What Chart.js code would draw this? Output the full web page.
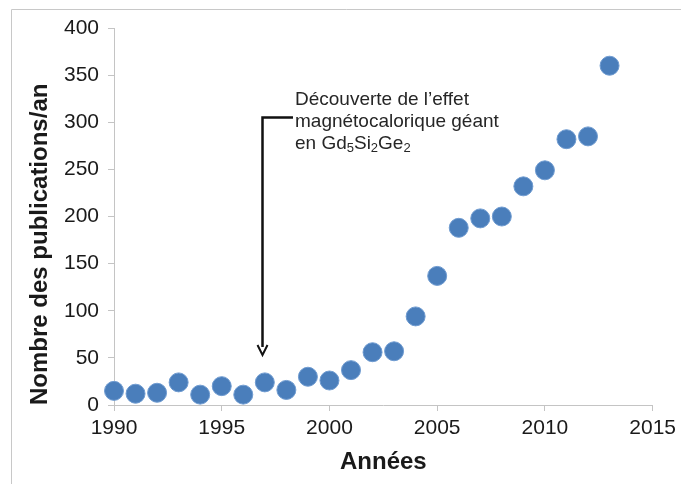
<!DOCTYPE html>
<html>
<head>
<meta charset="utf-8">
<script src="https://cdn.jsdelivr.net/npm/chart.js@4.4.0/dist/chart.umd.min.js"></script>
<style>
  html, body { margin: 0; padding: 0; background: #fff; }
  #wrap { width: 681px; height: 484px; position: relative; }
</style>
</head>
<body>
<div id="wrap"><canvas id="chart"></canvas></div>
<script>
// Years and publications per year
const years = [1990, 1991, 1992, 1993, 1994, 1995, 1996, 1997, 1998, 1999, 2000, 2001,
  2002, 2003, 2004, 2005, 2006, 2007, 2008, 2009, 2010, 2011, 2012, 2013];
const publications = [15, 12, 13, 24, 11, 20, 11, 24, 16, 30, 26, 37,
  56, 57, 94, 137, 188, 198, 200, 232, 249, 282, 285, 360];

const xTicks = [1990, 1995, 2000, 2005, 2010, 2015];
const yTicks = [0, 50, 100, 150, 200, 250, 300, 350, 400];

// annotation (data units)
const arrowYear = 1997;
const arrowTop = 305;
const arrowTip = 53;
const noteLines = ['Découverte de l’effet', 'magnétocalorique géant'];

const points = years.map((y, i) => ({ x: y, y: publications[i] }));

const axisGray = '#c4c4c4';
const textColor = '#1a1a1a';

// thin frame around the figure
const framePlugin = {
  id: 'frame',
  beforeDraw(chart) {
    const ctx = chart.ctx;
    ctx.save();
    ctx.strokeStyle = '#c8c8c8';
    ctx.lineWidth = 1;
    ctx.beginPath();
    ctx.moveTo(11.5, 484);
    ctx.lineTo(11.5, 9.5);
    ctx.lineTo(681, 9.5);
    ctx.stroke();
    ctx.restore();
  }
};

// arrow + note
const notePlugin = {
  id: 'note',
  afterDatasetsDraw(chart) {
    const { ctx, scales: { x, y } } = chart;
    const ax = Math.round(x.getPixelForValue(arrowYear)) - 2.5;
    const top = y.getPixelForValue(arrowTop);
    const tip = y.getPixelForValue(arrowTip);
    const textX = x.getPixelForValue(1998.4);
    ctx.save();
    ctx.strokeStyle = '#111';
    ctx.fillStyle = '#111';
    ctx.lineWidth = 2.5;
    ctx.beginPath();
    ctx.moveTo(textX - 2, top);
    ctx.lineTo(ax, top);
    ctx.lineTo(ax, tip - 8);
    ctx.stroke();
    ctx.lineWidth = 2;
    ctx.beginPath();
    ctx.moveTo(ax - 5, tip - 10);
    ctx.lineTo(ax, tip);
    ctx.lineTo(ax + 5, tip - 10);
    ctx.stroke();

    ctx.fillStyle = '#262626';
    ctx.textBaseline = 'middle';
    ctx.textAlign = 'left';
    const big = '19px "Liberation Sans", Arial, sans-serif';
    const small = '13px "Liberation Sans", Arial, sans-serif';
    ctx.font = big;
    const y0 = top - 18;
    const lh = 22;
    ctx.fillText(noteLines[0], textX, y0);
    ctx.fillText(noteLines[1], textX, y0 + lh);
    // en Gd5Si2Ge2 with subscripts
    const parts = [['en Gd', false], ['5', true], ['Si', false], ['2', true], ['Ge', false], ['2', true]];
    let cx = textX;
    const ly = y0 + 2 * lh;
    parts.forEach(([t, sub]) => {
      ctx.font = sub ? small : big;
      ctx.fillText(t, cx, sub ? ly + 5 : ly);
      cx += ctx.measureText(t).width;
    });
    ctx.restore();
  }
};

new Chart(document.getElementById('chart'), {
  type: 'scatter',
  data: {
    datasets: [{
      data: points,
      backgroundColor: '#4a7ebb',
      borderColor: '#6f9bd0',
      borderWidth: 1,
      pointRadius: 9.5,
      pointHoverRadius: 9.5,
      clip: false
    }]
  },
  options: {
    responsive: true,
    maintainAspectRatio: false,
    animation: false,
    layout: { padding: { top: 28, right: 28, left: 0, bottom: 0 } },
    plugins: {
      legend: { display: false },
      tooltip: { enabled: false }
    },
    scales: {
      x: {
        type: 'linear',
        min: 1990,
        max: 2015,
        afterFit: (s) => { s.height = 79; },
        afterBuildTicks: (s) => { s.ticks = xTicks.map(v => ({ value: v })); },
        grid: { drawOnChartArea: false, color: axisGray, tickLength: 6 },
        border: { color: axisGray, width: 1 },
        ticks: {
          color: textColor,
          padding: 5,
          maxRotation: 0,
          font: { family: '"Liberation Sans", Arial, sans-serif', size: 21 },
          callback: (v) => String(v)
        },
        title: {
          display: true,
          text: 'Années',
          color: textColor,
          padding: { top: 0, bottom: 10 },
          font: { family: '"Liberation Sans", Arial, sans-serif', size: 24, weight: 'bold', lineHeight: 1 }
        }
      },
      y: {
        min: 0,
        max: 400,
        afterFit: (s) => { s.width = 114; },
        afterBuildTicks: (s) => { s.ticks = yTicks.map(v => ({ value: v })); },
        grid: { drawOnChartArea: false, color: axisGray, tickLength: 6 },
        border: { color: axisGray, width: 1 },
        ticks: {
          color: textColor,
          padding: 9,
          font: { family: '"Liberation Sans", Arial, sans-serif', size: 21 }
        },
        title: {
          display: true,
          text: 'Nombre des publications/an',
          align: 'start',
          color: textColor,
          padding: { top: 28, bottom: 0 },
          font: { family: '"Liberation Sans", Arial, sans-serif', size: 24, weight: 'bold', lineHeight: 1 }
        }
      }
    }
  },
  plugins: [framePlugin, notePlugin]
});
</script>
</body>
</html>
